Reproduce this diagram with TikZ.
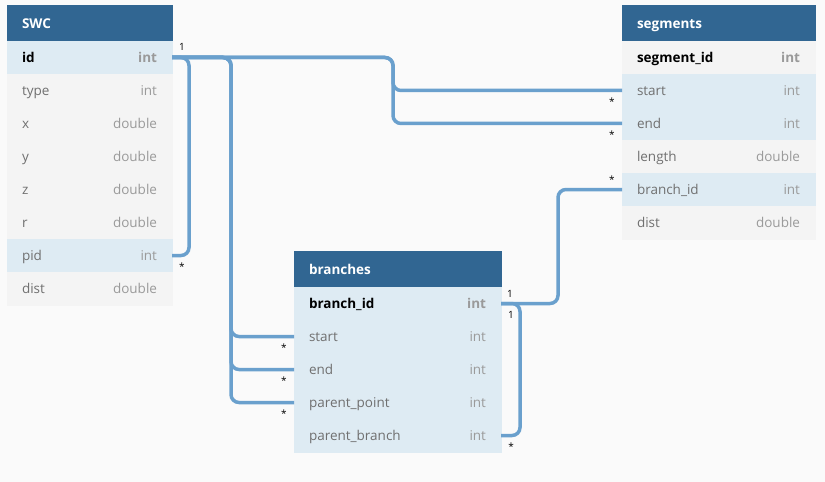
\documentclass[tikz,border=0pt]{standalone}
\usepackage{fontspec}
\setmainfont{Open Sans}
\usetikzlibrary{positioning}

\definecolor{headblue}{HTML}{316692}
\definecolor{rowblue}{HTML}{DEEBF3}
\definecolor{rowgray}{HTML}{F4F4F4}
\definecolor{bggray}{HTML}{FAFAFA}
\definecolor{linkblue}{HTML}{6AA0CD}
\definecolor{namegray}{HTML}{707070}
\definecolor{typegray}{HTML}{9A9A9A}

\begin{document}
\fontsize{13.5bp}{16bp}\selectfont
\begin{tikzpicture}[
  x=1bp, y=-1bp,
  head/.style={rectangle, fill=headblue, draw=headblue, line width=0.4bp, outer sep=0bp, text width=#1, inner xsep=15bp, minimum height=36bp, align=left, font=\bfseries, text=white, text height=11bp, text depth=0bp},
  row/.style 2 args={rectangle, fill=#1, draw=#1, line width=0.4bp, outer sep=0bp, text width=#2, inner xsep=15bp, minimum height=33bp, align=left, text=namegray, text height=10bp, text depth=0bp},
  typ/.style={rectangle, text width=#1, inner xsep=15bp, align=right, text=typegray, text height=10bp, text depth=0bp},
  key/.style={font=\bfseries, text=black},
  keyt/.style={font=\bfseries},
  rel/.style={draw=linkblue, line width=3.5bp, rounded corners=8bp},
  card/.style={font=\fontsize{10bp}{12bp}\selectfont, inner sep=0bp, text=black}
]

  \fill[bggray] (0,0) rectangle (825,482);

  % SWC
  \node[head=135bp, anchor=north west] (swc) at (7,5) {SWC};
  \node[row={rowblue}{135bp}, key, below=0bp of swc] (swc-id) {id};
  \node[row={rowgray}{135bp}, below=0bp of swc-id] (swc-type) {type};
  \node[row={rowgray}{135bp}, below=0bp of swc-type] (swc-x) {x};
  \node[row={rowgray}{135bp}, below=0bp of swc-x] (swc-y) {y};
  \node[row={rowgray}{135bp}, below=0bp of swc-y] (swc-z) {z};
  \node[row={rowgray}{135bp}, below=0bp of swc-z] (swc-r) {r};
  \node[row={rowblue}{135bp}, below=0bp of swc-r] (swc-pid) {pid};
  \node[row={rowgray}{135bp}, below=0bp of swc-pid] (swc-dist) {dist};
  \node[typ=135bp, keyt] (swc-id-t) at (swc-id) {int};
  \node[typ=135bp] (swc-type-t) at (swc-type) {int};
  \node[typ=135bp] (swc-x-t) at (swc-x) {double};
  \node[typ=135bp] (swc-y-t) at (swc-y) {double};
  \node[typ=135bp] (swc-z-t) at (swc-z) {double};
  \node[typ=135bp] (swc-r-t) at (swc-r) {double};
  \node[typ=135bp] (swc-pid-t) at (swc-pid) {int};
  \node[typ=135bp] (swc-dist-t) at (swc-dist) {double};

  % segments
  \node[head=163bp, anchor=north west] (seg) at (622,5) {segments};
  \node[row={rowgray}{163bp}, key, below=0bp of seg] (seg-id) {segment\_id};
  \node[row={rowblue}{163bp}, below=0bp of seg-id] (seg-start) {start};
  \node[row={rowblue}{163bp}, below=0bp of seg-start] (seg-end) {end};
  \node[row={rowgray}{163bp}, below=0bp of seg-end] (seg-length) {length};
  \node[row={rowblue}{163bp}, below=0bp of seg-length] (seg-branch) {branch\_id};
  \node[row={rowgray}{163bp}, below=0bp of seg-branch] (seg-dist) {dist};
  \node[typ=163bp, keyt] (seg-id-t) at (seg-id) {int};
  \node[typ=163bp] (seg-start-t) at (seg-start) {int};
  \node[typ=163bp] (seg-end-t) at (seg-end) {int};
  \node[typ=163bp] (seg-length-t) at (seg-length) {double};
  \node[typ=163bp] (seg-branch-t) at (seg-branch) {int};
  \node[typ=163bp] (seg-dist-t) at (seg-dist) {double};

  % branches
  \node[head=177bp, anchor=north west] (br) at (294,251) {branches};
  \node[row={rowblue}{177bp}, key, below=0bp of br] (br-id) {branch\_id};
  \node[row={rowblue}{177bp}, below=0bp of br-id] (br-start) {start};
  \node[row={rowblue}{177bp}, below=0bp of br-start] (br-end) {end};
  \node[row={rowblue}{177bp}, below=0bp of br-end] (br-ppoint) {parent\_point};
  \node[row={rowblue}{177bp}, below=0bp of br-ppoint] (br-pbranch) {parent\_branch};
  \node[typ=177bp, keyt] (br-id-t) at (br-id) {int};
  \node[typ=177bp] (br-start-t) at (br-start) {int};
  \node[typ=177bp] (br-end-t) at (br-end) {int};
  \node[typ=177bp] (br-ppoint-t) at (br-ppoint) {int};
  \node[typ=177bp] (br-pbranch-t) at (br-pbranch) {int};

  % links
  \draw[rel] (swc-id.east) -- ++(17bp,0bp) |- (swc-pid.east);
  \draw[rel] (swc-id.east) -- ++(221bp,0bp) |- (seg-start.west);
  \draw[rel] (swc-id.east) -- ++(221bp,0bp) |- (seg-end.west);
  \draw[rel] (swc-id.east) -- ++(59bp,0bp) |- (br-start.west);
  \draw[rel] (swc-id.east) -- ++(59bp,0bp) |- (br-end.west);
  \draw[rel] (swc-id.east) -- ++(59bp,0bp) |- (br-ppoint.west);
  \draw[rel] (br-id.east) -- ++(57bp,0bp) |- (seg-branch.west);
  \draw[rel] (br-id.east) -- ++(19bp,0bp) |- (br-pbranch.east);

  % cardinalities
  \node[card] (c-swc-id) at ([shift={(10bp,11bp)}]swc-id.east) {1};
  \node[card] (c-swc-pid) at ([shift={(10bp,-11bp)}]swc-pid.east) {*};
  \node[card] (c-seg-start) at ([shift={(-10bp,-11bp)}]seg-start.west) {*};
  \node[card] (c-seg-end) at ([shift={(-10bp,-11bp)}]seg-end.west) {*};
  \node[card] (c-seg-branch) at ([shift={(-10bp,10bp)}]seg-branch.west) {*};
  \node[card] (c-br-start) at ([shift={(-10bp,-11bp)}]br-start.west) {*};
  \node[card] (c-br-end) at ([shift={(-10bp,-11bp)}]br-end.west) {*};
  \node[card] (c-br-ppoint) at ([shift={(-10bp,-11bp)}]br-ppoint.west) {*};
  \node[card] (c-br-id-a) at ([shift={(9bp,10bp)}]br-id.east) {1};
  \node[card] (c-br-id-b) at ([shift={(10bp,-11bp)}]br-id.east) {1};
  \node[card] (c-br-pbranch) at ([shift={(10bp,-11bp)}]br-pbranch.east) {*};

\end{tikzpicture}
\end{document}
